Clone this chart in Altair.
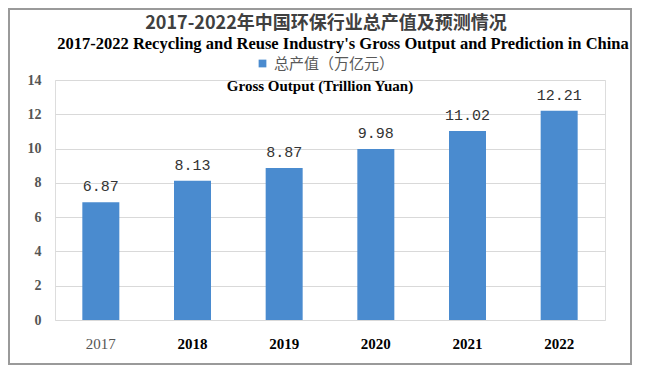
import altair as alt
import pandas as pd

years = ["2017", "2018", "2019", "2020", "2021", "2022"]
values = [6.87, 8.13, 8.87, 9.98, 11.02, 12.21]
series_name = "总产值（万亿元）"
title_cn = "2017-2022年中国环保行业总产值及预测情况"
title_en = "2017-2022 Recycling and Reuse Industry's Gross Output and Prediction in China"
subtitle = "Gross Output (Trillion Yuan)"
y_ticks = [0, 2, 4, 6, 8, 10, 12, 14]

df = pd.DataFrame({"year": years, "value": values, "series": [series_name] * len(years)})

W, H = 550, 240
PL, PT, PR, PB = 47, 72, 27, 45

base = alt.Chart(df).encode(
    x=alt.X("year:N", sort=years, title=None,
            axis=alt.Axis(labelAngle=0, ticks=False, domain=False, labelPadding=16,
                          labelFont="Liberation Serif", labelFontSize=15,
                          labelFontWeight=alt.condition("datum.value == '2017'", alt.value("normal"), alt.value("bold")),
                          labelColor=alt.condition("datum.value == '2017'", alt.value("#555555"), alt.value("#000000")))),
    y=alt.Y("value:Q", scale=alt.Scale(domain=[0, 14], nice=False), title=None,
            axis=alt.Axis(values=y_ticks, ticks=False, domain=False, labelPadding=14,
                          labelOverlap=False, labelFont="Liberation Serif", labelFontSize=14,
                          labelFontWeight="bold", labelColor="#555555",
                          gridColor="#d9d9d9", gridWidth=1)),
)

bars = base.mark_bar(size=37, color="#4a8bcf").encode(
    color=alt.Color("series:N", scale=alt.Scale(range=["#4a8bcf"]),
                    legend=alt.Legend(orient="none", legendX=200, legendY=-24, title=None,
                                      symbolType="square", symbolSize=60, labelFontSize=15,
                                      labelColor="#595959", labelFont="Noto Sans CJK SC",
                                      symbolStrokeWidth=0)),
)

labels = base.mark_text(baseline="bottom", dy=-8, font="Liberation Mono", fontSize=15,
                        color="#333333").encode(
    text=alt.Text("value:Q", format=".2f"),
)

def txt(s, y, size, font, weight, color, x=W / 2):
    return alt.Chart(pd.DataFrame({"t": [s]})).mark_text(
        font=font, fontSize=size, fontWeight=weight, color=color, align="center", baseline="middle"
    ).encode(x=alt.value(x), y=alt.value(y), text="t:N")

t1 = txt(title_cn, -56, 18, "Noto Sans CJK SC", "bold", "#404040", x=271)
t2 = txt(title_en, -36, 16.5, "Liberation Serif", "bold", "#000000", x=288)
t3 = txt(subtitle, 6, 15, "Liberation Serif", "bold", "#000000", x=265)

frame = alt.Chart(pd.DataFrame({"a": [0]})).mark_rect(
    fill=None, stroke="#9a9a9a", strokeWidth=2
).encode(x=alt.value(-PL + 1), x2=alt.value(W + PR - 1), y=alt.value(-PT + 1), y2=alt.value(H + PB - 1))

chart = alt.layer(bars, labels, t1, t2, t3, frame).properties(
    width=W, height=H,
    autosize=alt.AutoSizeParams(type="none"),
    padding={"left": PL, "top": PT, "right": PR, "bottom": PB},
).configure_view(stroke=None).configure(background="white")

chart.save("out.html", embed_options={"renderer": "svg", "actions": False})
